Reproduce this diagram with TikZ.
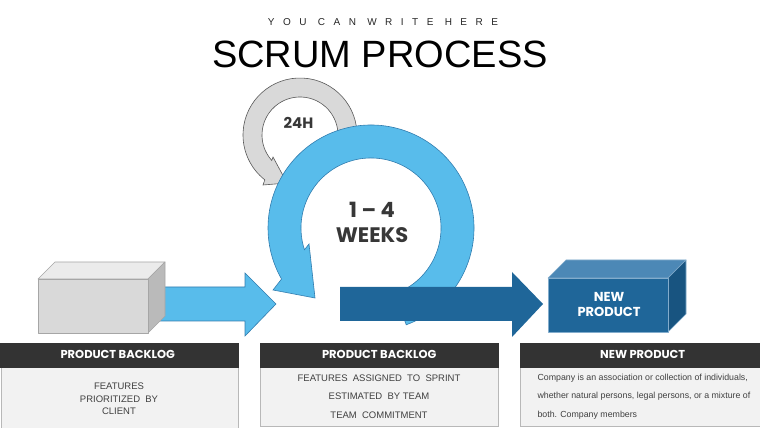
\documentclass[tikz,border=0pt]{standalone}
\usepackage{fontspec}
\setmainfont{Liberation Sans}
\newfontfamily\geofont{Poppins}
\usetikzlibrary{calc}
\definecolor{skyblue}{RGB}{88,188,235}
\definecolor{skyline}{RGB}{50,125,175}
\definecolor{deepblue}{RGB}{31,102,153}
\definecolor{deeptop}{RGB}{76,136,182}
\definecolor{deepside}{RGB}{24,84,128}
\definecolor{ringgray}{RGB}{217,217,217}
\definecolor{headgray}{RGB}{51,51,51}
\definecolor{bodygray}{RGB}{242,242,242}
\definecolor{textgray}{RGB}{64,64,64}
\definecolor{darktext}{RGB}{55,55,55}

\begin{document}
\begin{tikzpicture}[x=1pt, y=1pt,
    head/.style={fill=headgray, draw=headgray, minimum height=24pt,
                 inner sep=0pt, text=white,
                 font=\geofont\bfseries\fontsize{11.5}{13}\selectfont},
    body/.style={fill=bodygray, draw=black!28, line width=0.8pt},
    caps/.style={align=center, text=textgray,
                 font=\fontsize{9.5}{12.5}\selectfont},
    ringtext/.style={align=center, text=darktext,
                     font=\geofont\bfseries},
    cubeedge/.style={line width=0.6pt, line join=round}
]
  \useasboundingbox (0,0) rectangle (760,428);

  % Heading
  \node[font=\fontsize{10}{12}\selectfont, text=black!85] (sub) at (383,406)
       {\addfontfeature{LetterSpace=85}YOU CAN WRITE HERE};
  \node[anchor=base, font=\fontsize{38}{40}\selectfont] (title) at (380,360)
       {SCRUM PROCESS};

  % Daily loop
  \coordinate (day) at (300,293);
  \filldraw[fill=ringgray, draw=black!65, line width=0.6pt]
    (day) ++(-3:57) arc[start angle=-3, end angle=231.9, radius=57]
    -- (263,243) -- (287,245) -- (273,271)
    -- ($(day)+(222:38)$) arc[start angle=222, end angle=-3, radius=38]
    -- cycle;

  % Sprint loop
  \coordinate (wk) at (371,200);
  \filldraw[fill=skyblue, draw=skyline, line width=0.6pt]
    (wk) ++(-70:103) arc[start angle=-70, end angle=209.7, radius=103]
    -- (273,138) -- (315,130) -- (309,184)
    -- ($(wk)+(198.1:70)$) arc[start angle=198.1, end angle=-70, radius=70]
    -- cycle;

  \node[ringtext, font=\geofont\bfseries\fontsize{15}{17}\selectfont]
       (hours) at (298.5,305) {24H};
  \node[ringtext, font=\geofont\bfseries\fontsize{21}{25}\selectfont]
       (weeks) at (372,205.5) {1 – 4\\WEEKS};

  % Backlog arrow
  \filldraw[fill=skyblue, draw=skyline, line width=0.6pt]
    (150,141) -- (245,141) -- (245,155) -- (276,124) -- (245,92)
    -- (245,107) -- (150,107) -- cycle;

  % Backlog cube
  \filldraw[cubeedge, fill=black!8, draw=black!35]
    (38,149) -- (55,166) -- (165,166) -- (148,149) -- cycle;
  \filldraw[cubeedge, fill=black!27, draw=black!35]
    (148,95) -- (165,112) -- (165,166) -- (148,149) -- cycle;
  \filldraw[cubeedge, fill=black!15, draw=black!35]
    (38,95) rectangle (148,149);

  % Release arrow
  \fill[deepblue]
    (340,141) -- (512,141) -- (512,156) -- (543,124) -- (512,91)
    -- (512,107) -- (340,107) -- cycle;

  % Product cube
  \filldraw[cubeedge, fill=deeptop, draw=deeptop!70!white]
    (548,150) -- (566,168) -- (686,168) -- (668,150) -- cycle;
  \filldraw[cubeedge, fill=deepside, draw=deeptop!70!white]
    (668,96) -- (686,114) -- (686,168) -- (668,150) -- cycle;
  \filldraw[cubeedge, fill=deepblue, draw=deeptop!70!white]
    (548,96) rectangle (668,150);
  \node[align=center, text=white,
        font=\geofont\bfseries\fontsize{13}{15}\selectfont]
       (prod) at (609,124) {NEW\\PRODUCT};

  % Backlog panel
  \draw[body] (1,-5) rectangle (238,61);
  \node[head, minimum width=241pt, anchor=south west] (hd1) at (-3,61)
       {PRODUCT BACKLOG};
  \node[caps] (tx1) at (119,29) {FEATURES\\PRIORITIZED~~BY\\CLIENT};

  % Sprint panel
  \draw[body] (260,2) rectangle (498,61);
  \node[head, minimum width=238pt, anchor=south west] (hd2) at (260,61)
       {PRODUCT BACKLOG};
  \node[caps, font=\fontsize{9.5}{18.5}\selectfont] (tx2) at (379,31.5)
       {FEATURES~~ASSIGNED~~TO~~SPRINT\\ESTIMATED~~BY TEAM\\TEAM~~COMMITMENT};

  % Product panel
  \draw[body] (520,2) rectangle (765,61);
  \node[head, minimum width=245pt, anchor=south west] (hd3) at (520,61)
       {NEW PRODUCT};
  \node[align=left, anchor=west, text=textgray,
        font=\fontsize{8.8}{18.5}\selectfont] (tx3) at (534,31.5)
       {Company is an association or collection of individuals,\\
        whether natural persons, legal persons, or a mixture of\\
        both. Company members};
\end{tikzpicture}
\end{document}
